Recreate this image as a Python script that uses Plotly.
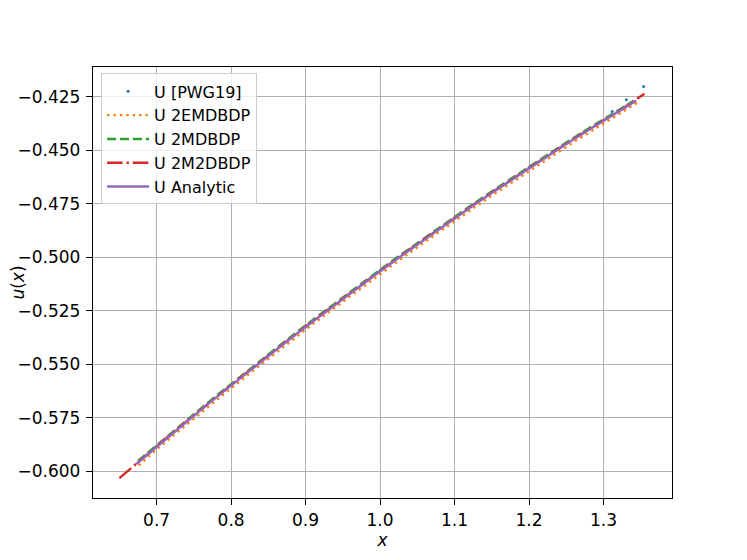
import plotly.graph_objects as go

# values
x_pwg = [0.700, 0.750, 0.800, 0.850, 0.900, 0.950, 1.000, 1.050, 1.100,
         1.150, 1.200, 1.250, 1.290, 1.3118, 1.3306, 1.3539]
u_pwg = [-0.5883, -0.5738, -0.5596, -0.5458, -0.5323, -0.5192, -0.5063, -0.4938, -0.4816,
         -0.4697, -0.4581, -0.4469, -0.4383, -0.4320, -0.4265, -0.4203]

x_2em = [0.676, 0.700, 0.725, 0.750, 0.775, 0.800, 0.825, 0.850, 0.875, 0.900,
         0.925, 0.950, 0.975, 1.000, 1.025, 1.050, 1.075, 1.100, 1.125, 1.150,
         1.175, 1.200, 1.225, 1.250, 1.275, 1.300, 1.325, 1.346]
u_2em = [-0.5973, -0.5898, -0.5826, -0.5754, -0.5683, -0.5612, -0.5543, -0.5474, -0.5406, -0.5339,
         -0.5273, -0.5208, -0.5143, -0.5079, -0.5016, -0.4954, -0.4892, -0.4832, -0.4772, -0.4713,
         -0.4655, -0.4597, -0.4541, -0.4485, -0.4430, -0.4376, -0.4323, -0.4277]

x_2md = [0.675, 0.700, 0.725, 0.750, 0.775, 0.800, 0.825, 0.850, 0.875, 0.900,
         0.925, 0.950, 0.975, 1.000, 1.025, 1.050, 1.075, 1.100, 1.125, 1.150,
         1.175, 1.200, 1.225, 1.250, 1.275, 1.300, 1.325, 1.340]
u_2md = [-0.5952, -0.5878, -0.5805, -0.5734, -0.5662, -0.5592, -0.5523, -0.5454, -0.5386, -0.5319,
         -0.5253, -0.5188, -0.5123, -0.5059, -0.4996, -0.4934, -0.4872, -0.4812, -0.4752, -0.4693,
         -0.4635, -0.4577, -0.4521, -0.4465, -0.4410, -0.4356, -0.4303, -0.4271]

x_2m2 = [0.650, 0.675, 0.700, 0.725, 0.750, 0.775, 0.800, 0.825, 0.850, 0.875,
         0.900, 0.925, 0.950, 0.975, 1.000, 1.025, 1.050, 1.075, 1.100, 1.125,
         1.150, 1.175, 1.200, 1.225, 1.250, 1.275, 1.300, 1.325, 1.355]
u_2m2 = [-0.6032, -0.5957, -0.5883, -0.5810, -0.5739, -0.5667, -0.5597, -0.5528, -0.5459, -0.5391,
         -0.5324, -0.5258, -0.5193, -0.5128, -0.5064, -0.5001, -0.4939, -0.4877, -0.4817, -0.4757,
         -0.4698, -0.4640, -0.4582, -0.4526, -0.4470, -0.4415, -0.4361, -0.4308, -0.4237]

x_exact = [0.6727, 0.700, 0.725, 0.750, 0.775, 0.800, 0.825, 0.850, 0.875, 0.900,
           0.925, 0.950, 0.975, 1.000, 1.025, 1.050, 1.075, 1.100, 1.125, 1.150,
           1.175, 1.200, 1.225, 1.250, 1.275, 1.300, 1.325, 1.344]
u_exact = [-0.5966, -0.5885, -0.5812, -0.5741, -0.5669, -0.5599, -0.5530, -0.5461, -0.5393, -0.5326,
           -0.5260, -0.5195, -0.5130, -0.5066, -0.5003, -0.4941, -0.4879, -0.4819, -0.4759, -0.4700,
           -0.4642, -0.4584, -0.4528, -0.4472, -0.4417, -0.4363, -0.4310, -0.4269]

x_ticks = [0.7, 0.8, 0.9, 1.0, 1.1, 1.2, 1.3]
x_tick_text = ["0.7", "0.8", "0.9", "1.0", "1.1", "1.2", "1.3"]
y_ticks = [-0.600, -0.575, -0.550, -0.525, -0.500, -0.475, -0.450, -0.425]
y_tick_text = ["\u22120.600", "\u22120.575", "\u22120.550", "\u22120.525",
               "\u22120.500", "\u22120.475", "\u22120.450", "\u22120.425"]

LW = 2.4
FS = 17
fig = go.Figure()

fig.add_trace(go.Scatter(x=x_pwg, y=u_pwg, mode="markers", name="U [PWG19]",
                         marker=dict(color="#1f77b4", size=3)))
fig.add_trace(go.Scatter(x=x_2em, y=u_2em, mode="lines", name="U 2EMDBDP",
                         line=dict(color="#ff7f0e", width=LW, dash="2.4px,4px")))
fig.add_trace(go.Scatter(x=x_2md, y=u_2md, mode="lines", name="U 2MDBDP",
                         line=dict(color="#2ca02c", width=LW, dash="9px,3.9px")))
fig.add_trace(go.Scatter(x=x_2m2, y=u_2m2, mode="lines", name="U 2M2DBDP",
                         line=dict(color="#d62728", width=LW, dash="15.5px,3.9px,2.4px,3.9px")))
fig.add_trace(go.Scatter(x=x_exact, y=u_exact, mode="lines", name="U Analytic",
                         line=dict(color="#9467bd", width=LW)))

axis_style = dict(
    showline=True, linecolor="black", linewidth=1.3, mirror=True,
    ticks="outside", ticklen=6, tickwidth=1.3, tickcolor="black",
    showgrid=True, gridcolor="#b0b0b0", gridwidth=1.3, zeroline=False,
    tickfont=dict(size=FS, color="black"), automargin=False,
)

fig.update_xaxes(range=[0.6146, 1.392], tickvals=x_ticks, ticktext=x_tick_text,
                 ticklabelstandoff=0,
                 title=dict(text="<i>x</i>", font=dict(size=FS, color="black"), standoff=4),
                 **axis_style)
fig.update_yaxes(range=[-0.6125, -0.4112], tickvals=y_ticks, ticktext=y_tick_text,
                 ticklabelstandoff=2,
                 title=dict(text="<i>u</i>(<i>x</i>)", font=dict(size=FS, color="black"), standoff=4),
                 **axis_style)

# page body adds 8px around the figure, so the canvas is made 8px smaller
fig.update_layout(
    width=739, height=552,
    margin=dict(l=85, r=75, t=59, b=62),
    plot_bgcolor="white", paper_bgcolor="white",
    font=dict(family="DejaVu Sans", size=FS, color="black"),
    showlegend=True,
    legend=dict(x=0.014, y=0.985, xanchor="left", yanchor="top",
                bgcolor="rgba(255,255,255,0.8)", bordercolor="#cccccc", borderwidth=1,
                font=dict(size=16), itemwidth=42),
)

fig.write_html("out.html")
